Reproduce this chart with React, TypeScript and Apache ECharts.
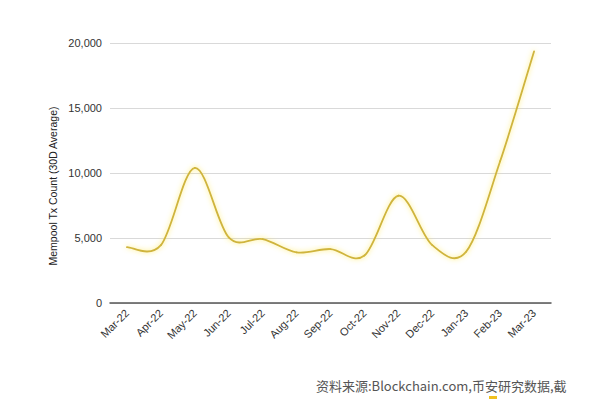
import React, { useEffect, useRef } from "react";
import * as echarts from "echarts";

const categories = ["Mar-22", "Apr-22", "May-22", "Jun-22", "Jul-22", "Aug-22", "Sep-22", "Oct-22", "Nov-22", "Dec-22", "Jan-23", "Feb-23", "Mar-23"];
const values = [4300, 4450, 10400, 5050, 4920, 3900, 4150, 3650, 8250, 4450, 3950, 10900, 19350];
const yTicks = [0, 5000, 10000, 15000, 20000];
const yName = "Mempool Tx Count (30D Average)";
const sourceText = "资料来源:Blockchain.com,币安研究数据,截";

export default function App() {
  const ref = useRef<HTMLDivElement>(null);
  useEffect(() => {
    const chart = echarts.init(ref.current!, null, { renderer: "svg" });
    const n = values.length;
    const renderItem = (params: any, api: any) => {
      const i = params.dataIndex;
      if (i >= n - 1) return null;
      const idx = (k: number) => Math.max(0, Math.min(n - 1, k));
      const p0 = api.coord([idx(i - 1), values[idx(i - 1)]]);
      const p1 = api.coord([i, values[i]]);
      const p2 = api.coord([i + 1, values[i + 1]]);
      const p3 = api.coord([idx(i + 2), values[idx(i + 2)]]);
      const c1x = p1[0] + (p2[0] - p0[0]) / 6;
      const c1y = p1[1] + (p2[1] - p0[1]) / 6;
      const c2x = p2[0] - (p3[0] - p1[0]) / 6;
      const c2y = p2[1] - (p3[1] - p1[1]) / 6;
      const d = `M${p1[0]},${p1[1]} C${c1x},${c1y} ${c2x},${c2y} ${p2[0]},${p2[1]}`;
      return {
        type: "path",
        shape: { pathData: d },
        style: {
          fill: "none",
          stroke: "#cfb43e",
          lineWidth: 1.8,
          lineCap: "round",
          shadowColor: "rgba(255, 232, 80, 0.85)",
          shadowBlur: 5,
        },
      };
    };
    chart.setOption({
      animation: false,
      backgroundColor: "#ffffff",
      grid: { left: 110, right: 49, top: 43, bottom: 96 },
      xAxis: {
        type: "category",
        data: categories,
        boundaryGap: true,
        axisLine: { lineStyle: { color: "#555555", width: 1.5 } },
        axisTick: { show: false },
        axisLabel: { rotate: 45, fontSize: 11, color: "#333333", fontFamily: "Liberation Sans, Arial", margin: 8, interval: 0 },
      },
      yAxis: {
        type: "value",
        min: yTicks[0],
        max: yTicks[yTicks.length - 1],
        interval: 5000,
        axisLine: { show: false },
        axisTick: { show: false },
        splitLine: { lineStyle: { color: "#d9d9d9", width: 1 } },
        axisLabel: {
          fontSize: 11,
          color: "#333333",
          fontFamily: "Liberation Sans, Arial",
          margin: 8,
          formatter: (v: number) => v.toLocaleString("en-US"),
        },
      },
      series: [
        {
          type: "custom",
          renderItem,
          encode: { x: 0, y: 1 },
          data: values.map((v, i) => [i, v]),
        },
      ],
      graphic: [
        {
          type: "text",
          x: 53,
          y: 186,
          rotation: Math.PI / 2,
          style: {
            text: yName,
            fontSize: 10.5,
            fill: "#222222",
            fontFamily: "Liberation Sans, Arial",
            align: "center",
            verticalAlign: "middle",
          },
        },
        {
          type: "text",
          left: 316,
          top: 379,
          style: { text: sourceText, fontSize: 13, fill: "#555555", fontFamily: "Noto Sans CJK SC, Noto Sans" },
        },
        {
          type: "rect",
          shape: { x: 489, y: 396, width: 8, height: 3 },
          style: { fill: "#f0c020" },
        },
      ],
    });
    return () => chart.dispose();
  }, []);
  return <div ref={ref} style={{ position: "fixed", left: 0, top: 0, width: 600, height: 399 }} />;
}
